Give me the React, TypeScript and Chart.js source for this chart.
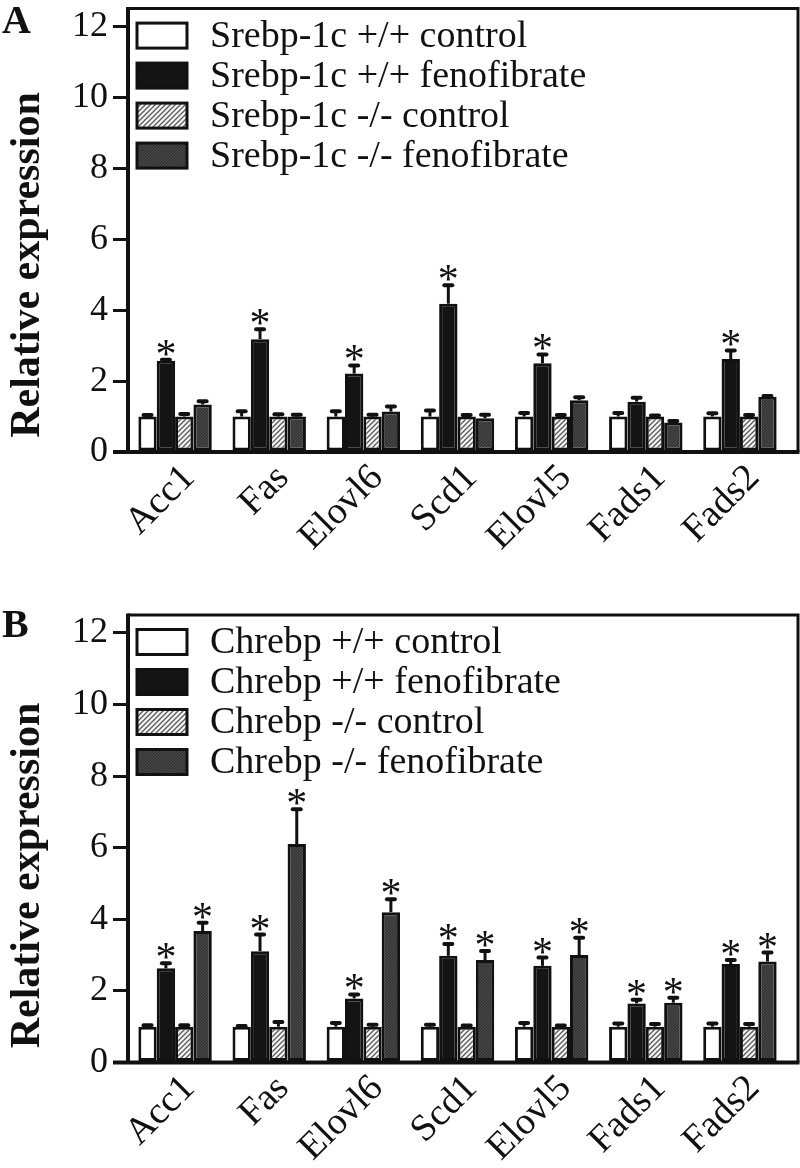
import React, { useEffect, useRef } from 'react';
import { Chart, registerables } from 'chart.js';

Chart.register(...registerables);

// ---------- data ----------
const categories = ['Acc1', 'Fas', 'Elovl6', 'Scd1', 'Elovl5', 'Fads1', 'Fads2'];
const yTicks = [0, 2, 4, 6, 8, 10, 12];
const yMax = 12.5;
const yTitle = 'Relative expression';

// Panel A (Srebp-1c)
const labelsA = [
  'Srebp-1c +/+ control',
  'Srebp-1c +/+ fenofibrate',
  'Srebp-1c -/- control',
  'Srebp-1c -/- fenofibrate',
];
const aWtControl = [1.0, 1.0, 1.0, 1.0, 1.0, 1.0, 1.0];
const aWtControlErr = [0.07, 0.18, 0.18, 0.2, 0.13, 0.13, 0.12];
const aWtFeno = [2.57, 3.18, 2.21, 4.18, 2.5, 1.42, 2.62];
const aWtFenoErr = [0.06, 0.31, 0.26, 0.55, 0.28, 0.14, 0.27];
const aKoControl = [1.0, 1.0, 1.0, 1.0, 1.0, 1.0, 1.0];
const aKoControlErr = [0.1, 0.09, 0.08, 0.07, 0.07, 0.06, 0.07];
const aKoFeno = [1.34, 1.0, 1.14, 0.95, 1.46, 0.83, 1.56];
const aKoFenoErr = [0.12, 0.08, 0.17, 0.13, 0.11, 0.07, 0.05];
const aStarWtFeno = [true, true, true, true, true, false, true];
const aStarNone = [false, false, false, false, false, false, false];

// Panel B (Chrebp)
const labelsB = [
  'Chrebp +/+ control',
  'Chrebp +/+ fenofibrate',
  'Chrebp -/- control',
  'Chrebp -/- fenofibrate',
];
const bWtControl = [1.0, 1.0, 1.0, 1.0, 1.0, 1.0, 1.0];
const bWtControlErr = [0.07, 0.05, 0.13, 0.08, 0.13, 0.12, 0.12];
const bWtFeno = [2.63, 3.11, 1.79, 2.98, 2.7, 1.65, 2.75];
const bWtFenoErr = [0.17, 0.49, 0.14, 0.36, 0.26, 0.13, 0.14];
const bKoControl = [1.0, 1.0, 1.0, 1.0, 1.0, 1.0, 1.0];
const bKoControlErr = [0.07, 0.16, 0.08, 0.06, 0.06, 0.1, 0.1];
const bKoFeno = [3.67, 6.1, 4.2, 2.86, 3.0, 1.67, 2.82];
const bKoFenoErr = [0.26, 1.0, 0.39, 0.28, 0.51, 0.17, 0.28];
const bStarWtFeno = [true, true, true, true, true, true, true];
const bStarKoFeno = [true, true, true, true, true, true, true];
const bStarNone = [false, false, false, false, false, false, false];

// ---------- styles ----------
const SERIF = '"Liberation Serif", "Times New Roman", serif';
const INK = '#111111';

function makeHatch(): CanvasPattern | string {
  const c = document.createElement('canvas');
  c.width = 5;
  c.height = 5;
  const g = c.getContext('2d');
  if (!g) return '#bbbbbb';
  g.fillStyle = '#f4f4f4';
  g.fillRect(0, 0, 5, 5);
  g.strokeStyle = '#5a5a5a';
  g.lineWidth = 1.3;
  g.beginPath();
  g.moveTo(-1, 6);
  g.lineTo(6, -1);
  g.moveTo(-1, 1);
  g.lineTo(1, -1);
  g.moveTo(4, 6);
  g.lineTo(6, 4);
  g.stroke();
  return g.createPattern(c, 'repeat') || '#bbbbbb';
}

function makeDark(): CanvasPattern | string {
  const c = document.createElement('canvas');
  c.width = 3;
  c.height = 3;
  const g = c.getContext('2d');
  if (!g) return '#3a3a3a';
  g.fillStyle = '#363636';
  g.fillRect(0, 0, 3, 3);
  g.fillStyle = '#4c4c4c';
  g.fillRect(0, 0, 1, 1);
  g.fillRect(2, 1, 1, 1);
  g.fillRect(1, 2, 1, 1);
  return g.createPattern(c, 'repeat') || '#3a3a3a';
}

const decorPlugin = {
  id: 'decor',
  afterDatasetsDraw(chart: any, _args: any, opts: any) {
    const { ctx } = chart;
    const y = chart.scales.y;
    ctx.save();
    // error bars + asterisks
    chart.data.datasets.forEach((ds: any, di: number) => {
      const meta = chart.getDatasetMeta(di);
      meta.data.forEach((bar: any, i: number) => {
        const v = ds.data[i];
        const e = opts.errors[di][i];
        const yBar = y.getPixelForValue(v);
        const yTop = y.getPixelForValue(v + e);
        ctx.strokeStyle = INK;
        ctx.lineCap = 'butt';
        ctx.lineWidth = 3;
        ctx.beginPath();
        ctx.moveTo(bar.x, yBar);
        ctx.lineTo(bar.x, yTop);
        ctx.stroke();
        ctx.lineWidth = 4;
        ctx.lineCap = 'round';
        ctx.beginPath();
        ctx.moveTo(bar.x - 4, yTop + 1);
        ctx.lineTo(bar.x + 4, yTop + 1);
        ctx.stroke();
        if (opts.stars[di][i]) {
          ctx.fillStyle = INK;
          ctx.font = `42px ${SERIF}`;
          ctx.textAlign = 'center';
          ctx.textBaseline = 'alphabetic';
          ctx.fillText('*', bar.x, yTop + 9);
        }
      });
    });
    ctx.restore();
  },
  afterDraw(chart: any, _args: any, opts: any) {
    const { ctx, chartArea } = chart;
    const { left, right, top, bottom } = chartArea;
    const frameRight = right + 11;
    ctx.save();
    ctx.strokeStyle = INK;
    ctx.lineCap = 'butt';
    // frame: top + right
    ctx.lineWidth = 3;
    ctx.beginPath();
    ctx.moveTo(left, top);
    ctx.lineTo(frameRight, top);
    ctx.lineTo(frameRight, bottom);
    ctx.stroke();
    // axes: left + bottom
    ctx.lineWidth = 4;
    ctx.beginPath();
    ctx.moveTo(left, top - 1.5);
    ctx.lineTo(left, bottom + 2);
    ctx.moveTo(left - 15, bottom);
    ctx.lineTo(frameRight + 1.5, bottom);
    ctx.stroke();

    // legend inside the plot area
    chart.data.datasets.forEach((ds: any, di: number) => {
      const cy = top + 27 + di * 40;
      const bx = left + 9;
      ctx.fillStyle = ds.backgroundColor;
      ctx.fillRect(bx, cy - 12.5, 50, 25);
      ctx.lineWidth = 3;
      ctx.strokeStyle = INK;
      ctx.strokeRect(bx, cy - 12.5, 50, 25);
      ctx.fillStyle = INK;
      ctx.font = `38px ${SERIF}`;
      ctx.textAlign = 'left';
      ctx.textBaseline = 'middle';
      ctx.fillText(ds.label, bx + 73, cy + 1);
    });

    // y title
    ctx.save();
    ctx.translate(28, bottom - 187);
    ctx.rotate(-Math.PI / 2);
    ctx.fillStyle = INK;
    ctx.font = `bold 42px ${SERIF}`;
    ctx.textAlign = 'center';
    ctx.textBaseline = 'middle';
    ctx.fillText(opts.title, 0, 0);
    ctx.restore();

    // panel letter
    ctx.fillStyle = INK;
    ctx.font = `bold 40px ${SERIF}`;
    ctx.textAlign = 'left';
    ctx.textBaseline = 'alphabetic';
    ctx.fillText(opts.letter, 2, opts.letterY);
    ctx.restore();
  },
};

type PanelProps = {
  top: number;
  height: number;
  padTop: number;
  bottomH: number;
  letter: string;
  letterY: number;
  labels: string[];
  values: number[][];
  errors: number[][];
  stars: boolean[][];
};

function Panel(p: PanelProps) {
  const ref = useRef<HTMLCanvasElement>(null);
  useEffect(() => {
    if (!ref.current) return;
    const fills = ['#ffffff', '#141414', makeHatch(), makeDark()];
    const chart = new Chart(ref.current, {
      type: 'bar',
      data: {
        labels: categories,
        datasets: p.labels.map((l, i) => ({
          label: l,
          data: p.values[i],
          backgroundColor: fills[i] as any,
          borderColor: INK,
          borderWidth: 3,
          borderSkipped: false,
          categoryPercentage: 0.78,
          barPercentage: 1.0,
        })),
      },
      options: {
        responsive: false,
        animation: false,
        devicePixelRatio: 1,
        layout: { padding: { top: p.padTop, right: 13, left: 0, bottom: 0 } },
        plugins: {
          legend: { display: false },
          tooltip: { enabled: false },
          decor: { errors: p.errors, stars: p.stars, title: yTitle, letter: p.letter, letterY: p.letterY },
        } as any,
        scales: {
          x: {
            grid: { display: false },
            border: { display: false },
            ticks: {
              color: INK,
              font: { family: SERIF, size: 38 },
              minRotation: 45,
              maxRotation: 45,
              padding: -4,
              labelOffset: 14,
            },
            afterFit: (s: any) => {
              s.height = p.bottomH;
            },
          },
          y: {
            min: 0,
            max: yMax,
            afterBuildTicks: (s: any) => {
              s.ticks = yTicks.map((v) => ({ value: v }));
            },
            grid: {
              drawOnChartArea: false,
              tickLength: 15,
              tickWidth: 3,
              tickColor: INK,
              color: INK,
              lineWidth: 3,
            },
            border: { display: false },
            ticks: {
              color: INK,
              font: { family: SERIF, size: 36, lineHeight: 0.2 },
              padding: 5,
            },
            afterFit: (s: any) => {
              s.width = 128;
            },
          },
        },
      },
      plugins: [decorPlugin as any],
    });
    return () => chart.destroy();
  }, []);
  return (
    <canvas
      ref={ref}
      width={800}
      height={p.height}
      style={{ position: 'absolute', left: 0, top: p.top, width: 800, height: p.height, display: 'block' }}
    />
  );
}

export default function App() {
  return (
    <div style={{ position: 'absolute', left: 0, top: 0, width: 800, height: 1168, background: '#fff', overflow: 'hidden' }}>
      <Panel
        top={0}
        height={584}
        padTop={5}
        bottomH={584 - 452}
        letter="A"
        letterY={33}
        labels={labelsA}
        values={[aWtControl, aWtFeno, aKoControl, aKoFeno]}
        errors={[aWtControlErr, aWtFenoErr, aKoControlErr, aKoFenoErr]}
        stars={[aStarNone, aStarWtFeno, aStarNone, aStarNone]}
      />
      <Panel
        top={584}
        height={584}
        padTop={31}
        bottomH={584 - 478.5}
        letter="B"
        letterY={53}
        labels={labelsB}
        values={[bWtControl, bWtFeno, bKoControl, bKoFeno]}
        errors={[bWtControlErr, bWtFenoErr, bKoControlErr, bKoFenoErr]}
        stars={[bStarNone, bStarWtFeno, bStarNone, bStarKoFeno]}
      />
    </div>
  );
}
